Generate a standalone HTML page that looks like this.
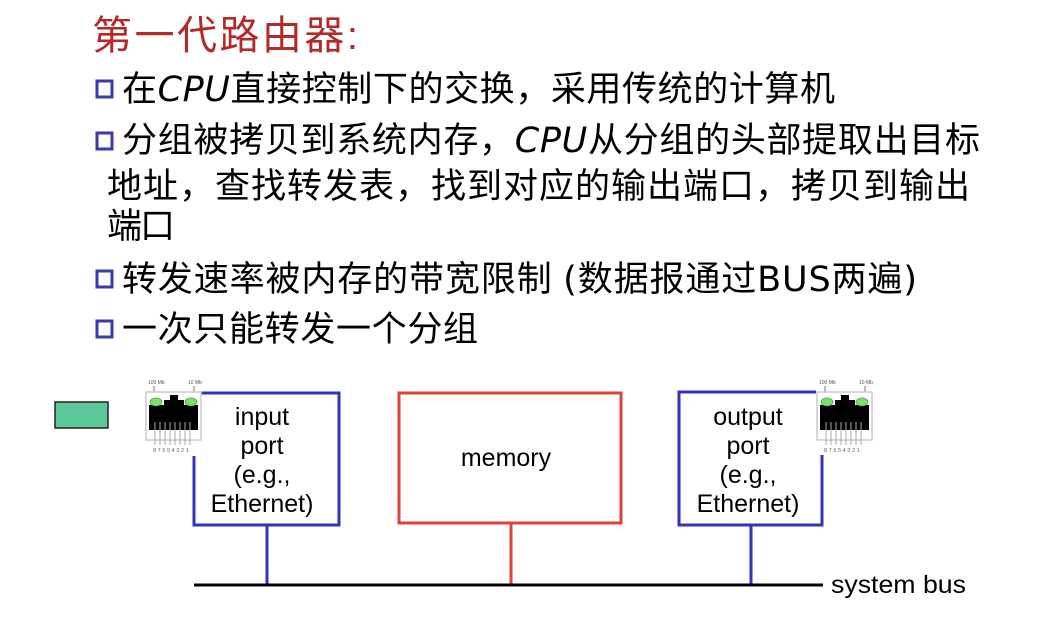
<!DOCTYPE html>
<html><head><meta charset="utf-8"><style>
html,body{margin:0;padding:0;background:#fff;}
svg{display:block;}
.cj{font-family:"Liberation Sans","Noto Sans CJK SC",sans-serif;font-size:35px;fill:#000;}
.lb{font-family:"Liberation Sans",sans-serif;font-size:25px;fill:#000;}
.lt{font-family:"DejaVu Sans",sans-serif;}
</style></head><body>
<svg width="1062" height="620" viewBox="0 0 1062 620" xmlns="http://www.w3.org/2000/svg">
<defs>
<g id="rj">
  <text x="2" y="-8" font-family="Liberation Sans" font-size="5" fill="#555">100 Mb</text>
  <text x="42" y="-8" font-family="Liberation Sans" font-size="5" fill="#555">10 Mb</text>
  <line x1="8" y1="-6" x2="8" y2="4" stroke="#555" stroke-width="0.8"/>
  <line x1="48" y1="-6" x2="48" y2="4" stroke="#555" stroke-width="0.8"/>
  <rect x="0" y="0" width="55" height="48" fill="#fff" stroke="#ccc" stroke-width="1.5"/>
  <path d="M3 13 H18 V8 H24 V3 H32 V8 H38 V13 H52 V38 H3 Z" fill="#000"/>
  <ellipse cx="10" cy="10" rx="6" ry="4" fill="#7ee06a" stroke="#4a4" stroke-width="0.8"/>
  <ellipse cx="45" cy="10" rx="6" ry="4" fill="#7ee06a" stroke="#4a4" stroke-width="0.8"/>
  <g stroke="#aaa" stroke-width="1">
    <line x1="9" y1="30" x2="9" y2="53"/><line x1="14" y1="30" x2="14" y2="53"/><line x1="19" y1="30" x2="19" y2="53"/><line x1="24" y1="30" x2="24" y2="53"/>
    <line x1="29" y1="30" x2="29" y2="53"/><line x1="34" y1="30" x2="34" y2="53"/><line x1="39" y1="30" x2="39" y2="53"/><line x1="44" y1="30" x2="44" y2="53"/>
  </g>
  <text x="7" y="60" font-family="Liberation Sans" font-size="5.5" fill="#666" letter-spacing="1.6">87654321</text>
</g>
</defs>

<text x="92" y="49" font-family="Liberation Sans,'Noto Sans CJK SC',sans-serif" font-size="40" fill="#b22a2a" textLength="266" lengthAdjust="spacing">第一代路由器:</text>

<g fill="#fff" stroke="#3a3aaa" stroke-width="3">
<rect x="97" y="81" width="15" height="16"/>
<rect x="97" y="133" width="15" height="16"/>
<rect x="97" y="271" width="15" height="16"/>
<rect x="97" y="321" width="15" height="16"/>
</g>

<text class="cj" x="122" y="101" textLength="713" lengthAdjust="spacing">在<tspan class="lt" font-style="italic">CPU</tspan>直接控制下的交换，采用传统的计算机</text>
<text class="cj" x="122" y="152" textLength="858" lengthAdjust="spacing">分组被拷贝到系统内存，<tspan class="lt" font-style="italic">CPU</tspan>从分组的头部提取出目标</text>
<text class="cj" x="107" y="198" textLength="863" lengthAdjust="spacing">地址，查找转发表，找到对应的输出端口，拷贝到输出</text>
<text class="cj" x="107" y="238" textLength="68" lengthAdjust="spacing">端口</text>
<text class="cj" x="122" y="291" textLength="795" lengthAdjust="spacing">转发速率被内存的带宽限制 <tspan class="lt">(</tspan>数据报通过<tspan class="lt">BUS</tspan>两遍<tspan class="lt">)</tspan></text>
<text class="cj" x="122" y="341" textLength="356" lengthAdjust="spacing">一次只能转发一个分组</text>

<rect x="55" y="402" width="53" height="26" fill="#5cc89a" stroke="#222" stroke-width="1.5"/>

<polyline points="200,393 339,393 339,525 194,525 194,456" fill="none" stroke="#3333bb" stroke-width="3"/>
<use href="#rj" x="146" y="392"/>
<g class="lb" text-anchor="middle">
<text x="262" y="425">input</text><text x="262" y="454">port</text><text x="262" y="483">(e.g.,</text><text x="262" y="512">Ethernet)</text>
</g>
<line x1="267" y1="525" x2="267" y2="585" stroke="#3333bb" stroke-width="3"/>

<rect x="399" y="393" width="222" height="130" fill="none" stroke="#e0413a" stroke-width="3"/>
<text class="lb" x="506" y="466" text-anchor="middle">memory</text>
<line x1="511" y1="523" x2="511" y2="585" stroke="#e0413a" stroke-width="3"/>

<polyline points="816,392 679,392 679,525 822,525 822,455" fill="none" stroke="#3333bb" stroke-width="3"/>
<use href="#rj" x="817" y="392"/>
<g class="lb" text-anchor="middle">
<text x="748" y="425">output</text><text x="748" y="454">port</text><text x="748" y="483">(e.g.,</text><text x="748" y="512">Ethernet)</text>
</g>
<line x1="751" y1="525" x2="751" y2="585" stroke="#3333bb" stroke-width="3"/>

<line x1="194" y1="585" x2="823" y2="585" stroke="#000" stroke-width="3"/>
<text class="lb" x="831" y="593" textLength="135" lengthAdjust="spacingAndGlyphs">system bus</text>
</svg>
</body></html>
